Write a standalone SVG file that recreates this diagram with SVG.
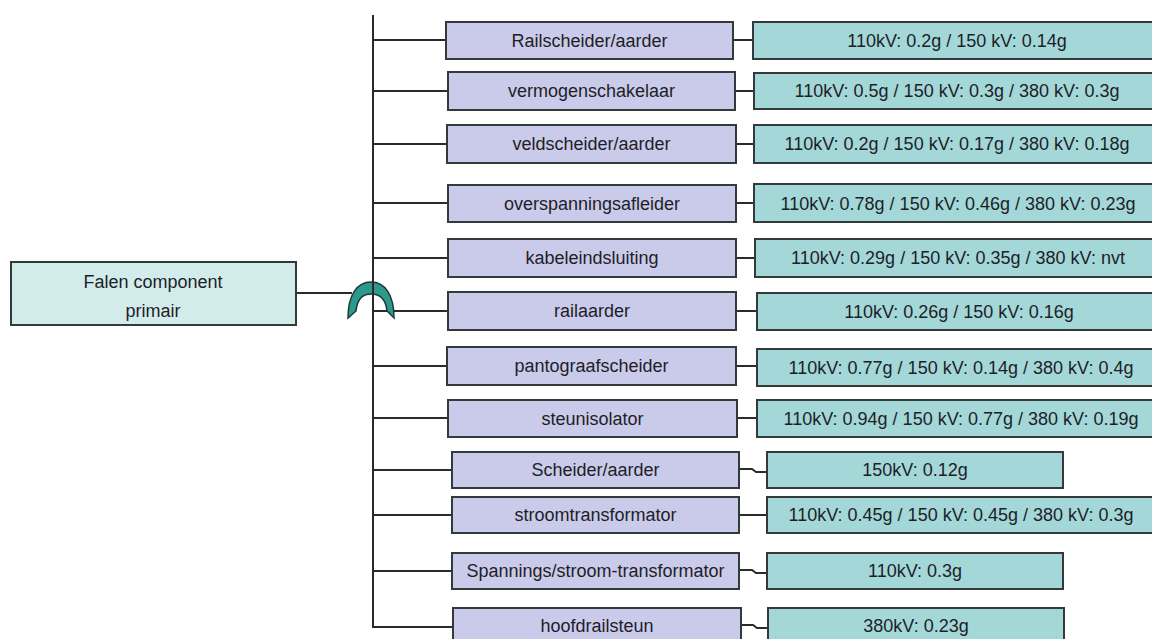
<svg xmlns="http://www.w3.org/2000/svg" width="1152" height="639" viewBox="0 0 1152 639">
<style>
  .lbox { fill: #cacbea; stroke: #333a3a; stroke-width: 2; }
  .rbox { fill: #a3d7d8; stroke: #333a3a; stroke-width: 2; }
  .top { fill: #d2ecec; stroke: #333a3a; stroke-width: 2; }
  .t { font-family: "Liberation Sans", Arial, sans-serif; font-size: 18px; fill: #1e1e28; text-anchor: middle; }
  .c { fill: none; stroke: #2a2a2a; stroke-width: 2; }
</style>
<rect width="1152" height="639" fill="#ffffff"/>
<g id="connectors">
  <path class="c" d="M373,15 V627 H453"/>
  <path class="c" d="M296,293 H352"/>
  <path class="c" d="M373,40 H446 M733,40 H753"/>
  <path class="c" d="M373,91 H448 M735,91 H754"/>
  <path class="c" d="M373,144 H447 M736,144 H754"/>
  <path class="c" d="M373,203 H448 M736,203 H754"/>
  <path class="c" d="M373,258 H448 M736,258 H755"/>
  <path class="c" d="M373,311 H448 M736,311 H757"/>
  <path class="c" d="M373,366 H447 M736,366 H757"/>
  <path class="c" d="M373,418 H448 M737,418 H757"/>
  <path class="c" d="M373,470 H452 M739,469 H752 L756,472 H767"/>
  <path class="c" d="M373,515 H452 M739,515 H767"/>
  <path class="c" d="M373,571 H452 M739,570 H752 L756,573 H767"/>
  <path class="c" d="M741,625 H753 L757,628 H768"/>
</g>
<g id="gate">
  <path d="M348,318 C348,295 357,282 371,282 C385,282 394,295 394,318 L387,311 C386,301 381,294 371,294 C361,294 357,301 356,311 Z" fill="#2c998c" stroke="#1d3a36" stroke-width="1.5"/>
  <path class="c" d="M373,280 V335" stroke-width="3"/>
</g>
<g id="falen">
  <rect class="top" x="11" y="262" width="285" height="63"/>
  <text class="t" x="153" y="288">Falen component</text>
  <text class="t" x="153" y="317">primair</text>
</g>
<g id="n1"><rect class="lbox" x="446" y="22" width="287" height="37"/><text class="t" x="589.5" y="47">Railscheider/aarder</text></g>
<g id="v1"><rect class="rbox" x="753" y="22" width="403" height="37"/><text class="t" x="957" y="47">110kV: 0.2g / 150 kV: 0.14g</text></g>
<g id="n2"><rect class="lbox" x="448" y="72" width="287" height="38"/><text class="t" x="591.5" y="97">vermogenschakelaar</text></g>
<g id="v2"><rect class="rbox" x="754" y="73" width="402" height="36"/><text class="t" x="957" y="97">110kV: 0.5g / 150 kV: 0.3g / 380 kV: 0.3g</text></g>
<g id="n3"><rect class="lbox" x="447" y="125" width="289" height="38"/><text class="t" x="591.5" y="150">veldscheider/aarder</text></g>
<g id="v3"><rect class="rbox" x="754" y="125" width="402" height="38"/><text class="t" x="957" y="150">110kV: 0.2g / 150 kV: 0.17g / 380 kV: 0.18g</text></g>
<g id="n4"><rect class="lbox" x="448" y="185" width="288" height="37"/><text class="t" x="592" y="210">overspanningsafleider</text></g>
<g id="v4"><rect class="rbox" x="754" y="184" width="402" height="38"/><text class="t" x="958" y="210">110kV: 0.78g / 150 kV: 0.46g / 380 kV: 0.23g</text></g>
<g id="n5"><rect class="lbox" x="448" y="239" width="288" height="38"/><text class="t" x="592" y="264">kabeleindsluiting</text></g>
<g id="v5"><rect class="rbox" x="755" y="239" width="401" height="38"/><text class="t" x="958" y="264">110kV: 0.29g / 150 kV: 0.35g / 380 kV: nvt</text></g>
<g id="n6"><rect class="lbox" x="448" y="292" width="288" height="38"/><text class="t" x="592" y="317">railaarder</text></g>
<g id="v6"><rect class="rbox" x="757" y="293" width="399" height="37"/><text class="t" x="959" y="318">110kV: 0.26g  / 150 kV: 0.16g</text></g>
<g id="n7"><rect class="lbox" x="447" y="347" width="289" height="38"/><text class="t" x="591.5" y="372">pantograafscheider</text></g>
<g id="v7"><rect class="rbox" x="757" y="349" width="399" height="37"/><text class="t" x="961" y="374">110kV: 0.77g  / 150 kV: 0.14g / 380 kV: 0.4g</text></g>
<g id="n8"><rect class="lbox" x="448" y="400" width="289" height="37"/><text class="t" x="592.5" y="425">steunisolator</text></g>
<g id="v8"><rect class="rbox" x="757" y="400" width="399" height="37"/><text class="t" x="961" y="425">110kV: 0.94g  / 150 kV: 0.77g / 380 kV: 0.19g</text></g>
<g id="n9"><rect class="lbox" x="452" y="452" width="287" height="36"/><text class="t" x="595.5" y="476">Scheider/aarder</text></g>
<g id="v9"><rect class="rbox" x="767" y="452" width="296" height="36"/><text class="t" x="915" y="476">150kV: 0.12g</text></g>
<g id="n10"><rect class="lbox" x="452" y="497" width="287" height="36"/><text class="t" x="595.5" y="521">stroomtransformator</text></g>
<g id="v10"><rect class="rbox" x="767" y="497" width="389" height="36"/><text class="t" x="961" y="521">110kV: 0.45g / 150 kV: 0.45g / 380 kV: 0.3g</text></g>
<g id="n11"><rect class="lbox" x="452" y="553" width="287" height="36"/><text class="t" x="595.5" y="577">Spannings/stroom-transformator</text></g>
<g id="v11"><rect class="rbox" x="767" y="553" width="296" height="36"/><text class="t" x="915" y="577">110kV: 0.3g</text></g>
<g id="n12"><rect class="lbox" x="453" y="608" width="288" height="38"/><text class="t" x="597" y="632">hoofdrailsteun</text></g>
<g id="v12"><rect class="rbox" x="768" y="608" width="296" height="38"/><text class="t" x="916" y="632">380kV: 0.23g</text></g>
</svg>
